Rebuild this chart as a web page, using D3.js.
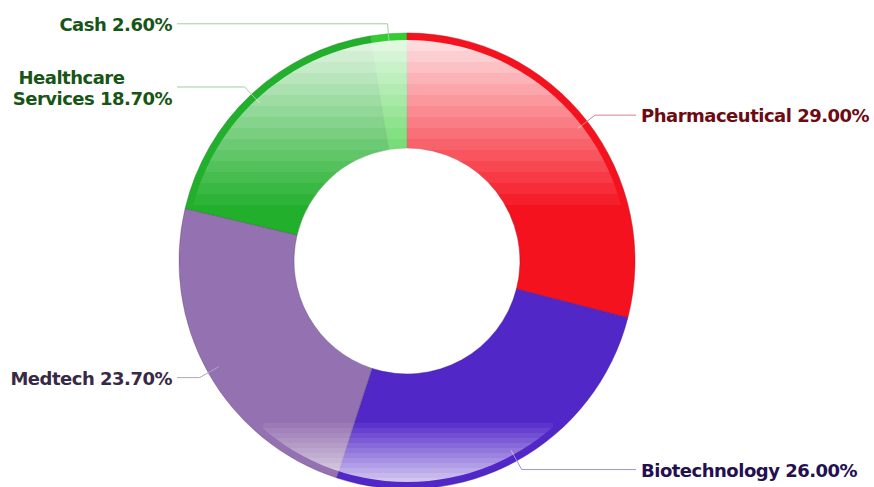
<!DOCTYPE html>
<html>
<head>
<meta charset="utf-8">
<script src="https://cdn.jsdelivr.net/npm/d3@7"></script>
<style>
	body { margin: 0; background: #fff; }
	#viz { width: 874px; height: 487px; }
	text { font-family: "DejaVu Sans", Verdana, sans-serif; font-weight: bold; font-size: 18px; letter-spacing: -0.5px; white-space: pre; }
</style>
</head>
<body>
<div id="viz"></div>
<script>
var names = ["Pharmaceutical", "Biotechnology", "Medtech", "Healthcare Services", "Cash"];
var values = [29.0, 26.0, 23.7, 18.7, 2.6];
var colors = ["#F5121F", "#5227C8", "#9471B0", "#21AF2C", "#33CC33"];
var textColors = ["#6E0A12", "#24104E", "#3A2946", "#175517", "#175517"];
var lineColors = ["#D4828A", "#A390DA", "#B3A2C6", "#9ED09E", "#9ED09E"];

var width, height, cx, cy, outerR, innerR, rimW;
var svg;

function generate(){
	width = 874;
	height = 487;
	cx = 407; cy = 261;
	outerR = 228; innerR = 113; rimW = 7;

	svg = d3.select("#viz").append("svg")
		.attr("width", width)
		.attr("height", height);

	var defs = svg.append("defs");

	// banded white highlight, top and bottom of the ring
	var grad = defs.append("linearGradient")
		.attr("id", "shine")
		.attr("gradientUnits", "userSpaceOnUse")
		.attr("x1", 0).attr("x2", 0)
		.attr("y1", 0).attr("y2", height);
	var stops = [];
	var top0 = cy - outerR + rimW, top1 = 205, band = 11;
	for (var y = top0; y < top1; y += band) {
		var o = 0.85 * (1 - (y - top0) / (top1 - top0));
		stops.push([y, o], [Math.min(y + band, top1), o]);
	}
	stops.push([top1, 0], [423, 0]);
	var bot0 = 423, bot1 = cy + outerR - rimW;
	for (var y2 = bot0; y2 < bot1; y2 += 5) {
		var o2 = 0.72 * ((y2 - bot0 + 5) / (bot1 - bot0));
		stops.push([y2, o2], [Math.min(y2 + 5, bot1), o2]);
	}
	grad.selectAll("stop").data(stops).enter().append("stop")
		.attr("offset", (d) => (d[0] / height))
		.attr("stop-color", "#fff")
		.attr("stop-opacity", (d) => Math.min(1, d[1]));

	defs.append("clipPath").attr("id", "inner")
		.append("circle").attr("cx", cx).attr("cy", cy).attr("r", outerR - rimW);

	var pie = d3.pie().sort(null).value((d) => d);
	var arcs = pie(values);
	var arc = d3.arc().innerRadius(innerR).outerRadius(outerR);

	var g = svg.append("g").attr("transform", "translate(" + cx + "," + cy + ")");

	g.selectAll(".slice")
		.data(arcs)
		.enter().append("path")
			.attr("class", "slice")
			.attr("d", arc)
			.attr("fill", (d, i) => colors[i])
			.attr("stroke", (d, i) => d3.color(colors[i]).darker(0.8))
			.attr("stroke-opacity", 0.35)
			.attr("stroke-width", 0.8);

	// highlight overlay
	var hl = svg.append("g").attr("clip-path", "url(#inner)");
	hl.append("rect")
		.attr("x", cx - outerR).attr("y", top0)
		.attr("width", outerR * 2).attr("height", top1 - top0)
		.attr("fill", "url(#shine)");
	hl.append("rect")
		.attr("x", 263).attr("y", bot0)
		.attr("width", 290).attr("height", bot1 - bot0)
		.attr("fill", "url(#shine)");

	// redraw slice seams above the highlight
	g.selectAll(".seam")
		.data(arcs)
		.enter().append("path")
			.attr("class", "seam")
			.attr("d", arc)
			.attr("fill", "none")
			.attr("stroke", (d, i) => d3.color(colors[i]).darker(0.8))
			.attr("stroke-opacity", 0.3)
			.attr("stroke-width", 0.8);

	// labels
	var startArc = d3.arc().innerRadius(216).outerRadius(216);
	var elbowArc = d3.arc().innerRadius(238).outerRadius(238);

	arcs.forEach(function(d, i){
		var p0 = startArc.centroid(d);
		var p1 = elbowArc.centroid(d);
		var right = p1[0] > 0;
		var xEnd = right ? outerR + 1 : -outerR - 2;
		g.append("polyline")
			.attr("points", [p0, p1, [xEnd, p1[1]]].map((p) => p.join(",")).join(" "))
			.attr("fill", "none")
			.attr("stroke", lineColors[i])
			.attr("stroke-width", 1);

		var label = names[i] + " " + d3.format(".2f")(values[i]) + "%";
		var lines = [label];
		if (label.length > 22) {
			var k = label.indexOf(" ");
			lines = [" " + label.slice(0, k), label.slice(k + 1)];
		}
		var t = g.append("text")
			.attr("fill", textColors[i])
			.attr("dominant-baseline", "central");
		lines.forEach(function(s, j){
			t.append("tspan")
				.attr("y", p1[1] + (j - (lines.length - 1) / 2) * 21)
				.text(s);
		});
		var tx = right ? xEnd + 5 : xEnd - 5;
		if (lines.length > 1) {
			var wMax = 0;
			t.selectAll("tspan").each(function(){ wMax = Math.max(wMax, this.getComputedTextLength()); });
			t.selectAll("tspan").attr("x", tx - wMax);
		} else {
			t.selectAll("tspan").attr("x", tx);
			t.attr("text-anchor", right ? "start" : "end");
		}
	});
}

generate();
</script>
</body>
</html>
